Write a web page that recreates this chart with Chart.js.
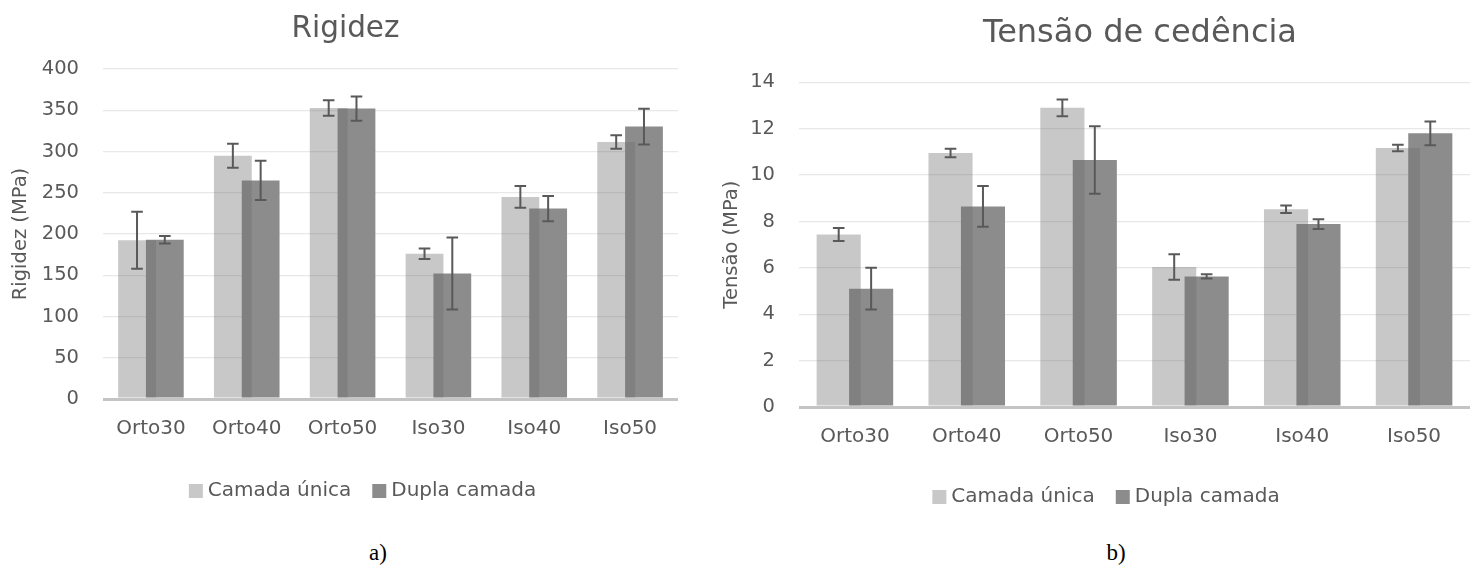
<!DOCTYPE html>
<html>
<head>
<meta charset="utf-8">
<script src="https://cdn.jsdelivr.net/npm/chart.js@4.4.1/dist/chart.umd.min.js"></script>
<style>
  html, body { margin: 0; padding: 0; background: #ffffff; }
  body { width: 1478px; height: 565px; overflow: hidden; position: relative; }
  .panel { position: absolute; top: 0; height: 520px; }
  #panelA { left: 0; width: 700px; }
  #panelB { left: 700px; width: 778px; }
  .caption { position: absolute; top: 541px; font-family: "Liberation Serif", "Times New Roman", serif;
             font-size: 23px; color: #000; transform: translateX(-50%); line-height: 1; white-space: nowrap; }
</style>
</head>
<body>
<div class="panel" id="panelA"><canvas id="chartA"></canvas></div>
<div class="panel" id="panelB"><canvas id="chartB"></canvas></div>
<div class="caption" style="left:378px">a)</div>
<div class="caption" style="left:1116px">b)</div>
<script>
// Specimen groups on the x axis
const categories = ['Orto30', 'Orto40', 'Orto50', 'Iso30', 'Iso40', 'Iso50'];
const seriesNames = ['Camada única', 'Dupla camada'];

// Rigidez (MPa): means and standard deviations
const rigidezUnica     = [192.5, 294.8, 352.7, 176.0, 245.0, 311.5];
const rigidezUnicaErr  = [34.6, 14.5, 9.3, 6.3, 13.3, 8.3];
const rigidezDupla     = [193.0, 265.0, 352.0, 152.2, 230.8, 330.2];
const rigidezDuplaErr  = [4.6, 23.9, 14.6, 43.6, 15.2, 21.6];
const rigidezTicks     = [0, 50, 100, 150, 200, 250, 300, 350, 400];

// Tensão de cedência (MPa): means and standard deviations
const tensaoUnica      = [7.44, 10.95, 12.90, 6.04, 8.53, 11.17];
const tensaoUnicaErr   = [0.28, 0.18, 0.36, 0.55, 0.16, 0.14];
const tensaoDupla      = [5.10, 8.65, 10.65, 5.63, 7.89, 11.80];
const tensaoDuplaErr   = [0.90, 0.88, 1.45, 0.09, 0.21, 0.51];
const tensaoTicks      = [0, 2, 4, 6, 8, 10, 12, 14];

const FONT = '"DejaVu Sans", Verdana, sans-serif';
const TEXT = '#595959';
// light series is translucent so the overlap with the darker bar shows through
const LIGHT = 'rgba(108,108,108,0.374)';
const DARK = 'rgb(140,140,140)';

// draws mean ± sd whiskers on every bar
const errorBars = {
  id: 'errorBars',
  afterDatasetsDraw(chart, args, opts) {
    const ctx = chart.ctx;
    const yScale = chart.scales.y;
    ctx.save();
    ctx.strokeStyle = opts.color || '#595959';
    ctx.lineWidth = opts.width || 2;
    const cap = opts.cap || 6;
    chart.data.datasets.forEach((ds, i) => {
      const meta = chart.getDatasetMeta(i);
      if (meta.hidden) return;
      meta.data.forEach((bar, j) => {
        const v = ds.data[j], e = ds.errors[j];
        const x = bar.x;
        const yt = yScale.getPixelForValue(v + e);
        const yb = yScale.getPixelForValue(v - e);
        ctx.beginPath();
        ctx.moveTo(x, yt); ctx.lineTo(x, yb);
        ctx.moveTo(x - cap, yt); ctx.lineTo(x + cap, yt);
        ctx.moveTo(x - cap, yb); ctx.lineTo(x + cap, yb);
        ctx.stroke();
      });
    });
    ctx.restore();
  }
};

// centres the title and legend blocks on chosen x positions of the canvas
const boxPlacement = {
  id: 'boxPlacement',
  afterLayout(chart, args, opts) {
    const place = (box, cx) => {
      if (!box || cx == null) return;
      const w = box.right - box.left;
      box.left = cx - w / 2;
      box.right = cx + w / 2;
    };
    place(chart.titleBlock, opts.titleCenter);
    place(chart.legend, opts.legendCenter);
  }
};

function makeChart(canvasId, cfg) {
  return new Chart(document.getElementById(canvasId), {
    type: 'bar',
    data: {
      labels: categories,
      datasets: [
        { label: seriesNames[0], data: cfg.unica, errors: cfg.unicaErr, backgroundColor: LIGHT,
          categoryPercentage: 0.58, barPercentage: 1.36 },
        { label: seriesNames[1], data: cfg.dupla, errors: cfg.duplaErr, backgroundColor: DARK,
          categoryPercentage: 0.58, barPercentage: 1.36 }
      ]
    },
    options: {
      responsive: true,
      maintainAspectRatio: false,
      animation: false,
      layout: { padding: cfg.padding },
      plugins: {
        title: {
          display: true, text: cfg.title, color: TEXT,
          font: { family: FONT, size: cfg.titleSize, weight: 'normal' },
          padding: cfg.titlePadding
        },
        legend: {
          position: 'bottom',
          labels: { color: TEXT, font: { family: FONT, size: 20 }, usePointStyle: true, pointStyle: 'rect',
                    boxWidth: 4, boxHeight: 14, padding: 26 }
        },
        tooltip: { enabled: false },
        errorBars: { color: '#595959', width: 2, cap: 5.8 },
        boxPlacement: { titleCenter: cfg.titleCenter, legendCenter: cfg.legendCenter }
      },
      scales: {
        x: {
          grid: { display: false, drawTicks: false },
          border: { display: false },
          ticks: { color: TEXT, font: { family: FONT, size: 20 }, padding: 18, maxRotation: 0 },
          afterFit: s => { s.height = cfg.xHeight; }
        },
        y: {
          min: cfg.ticks[0], max: cfg.ticks[cfg.ticks.length - 1],
          afterBuildTicks: s => { s.ticks = cfg.ticks.map(v => ({ value: v })); },
          afterFit: s => { s.width = cfg.yWidth; },
          border: { display: false },
          grid: {
            drawTicks: false,
            color: c => (c.tick && c.tick.value === 0) ? '#c4c4c4' : '#e8e8e8',
            lineWidth: c => (c.tick && c.tick.value === 0) ? 3 : 1.2
          },
          ticks: { color: TEXT, font: { family: FONT, size: 19.5 }, padding: 24 },
          title: { display: true, text: cfg.yTitle, color: TEXT, font: { family: FONT, size: 19.5 },
                   padding: { top: cfg.yTitlePad, bottom: 0 } }
        }
      }
    },
    plugins: [errorBars, boxPlacement]
  });
}

makeChart('chartA', {
  title: 'Rigidez', yTitle: 'Rigidez (MPa)', titleSize: 29.5,
  unica: rigidezUnica, unicaErr: rigidezUnicaErr, dupla: rigidezDupla, duplaErr: rigidezDuplaErr,
  ticks: rigidezTicks,
  padding: { left: 0, right: 22, top: 0, bottom: 9 },
  titlePadding: { top: 11.2, bottom: 22.4 },
  titleCenter: 345.5, legendCenter: 365,
  xHeight: 56, yWidth: 103, yTitlePad: 9
});

makeChart('chartB', {
  title: 'Tensão de cedência', yTitle: 'Tensão (MPa)', titleSize: 32,
  unica: tensaoUnica, unicaErr: tensaoUnicaErr, dupla: tensaoDupla, duplaErr: tensaoDuplaErr,
  ticks: tensaoTicks,
  padding: { left: 0, right: 8, top: 0, bottom: 3 },
  titlePadding: { top: 14, bottom: 29.9 },
  titleCenter: 440, legendCenter: 408.5,
  xHeight: 54, yWidth: 99, yTitlePad: 20
});
</script>
</body>
</html>
